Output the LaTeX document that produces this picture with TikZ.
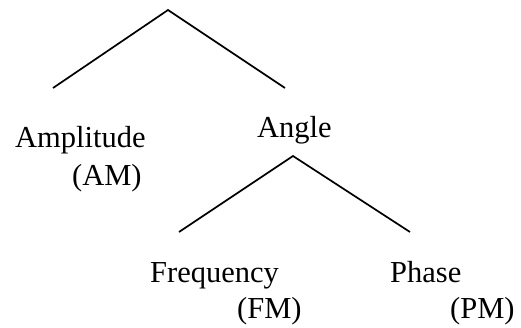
\documentclass[tikz,border=0pt]{standalone}
\usepackage{fontspec}
\setmainfont{Liberation Serif}
\begin{document}
\begin{tikzpicture}[x=1bp,y=-1bp,
  term/.style={inner sep=0pt, anchor=base west, font=\fontsize{30.5bp}{36bp}\selectfont},
  branch/.style={line width=1.7bp, line join=miter}]
\useasboundingbox (0,0) rectangle (521,327);

% modulation categories
\node[term] (amp)   at (15,147)  {Amplitude};
\node[term] (am)    at (72,185)  {(AM)};
\node[term] (angle) at (257,137) {Angle};
\node[term] (freq)  at (150,282) {Frequency};
\node[term] (fm)    at (237,318) {(FM)};
\node[term] (phase) at (390,282) {Phase};
\node[term] (pm)    at (450,318) {(PM)};

% branch points of the tree
\coordinate (top)  at (168,10);
\coordinate (topL) at (53,88);
\coordinate (topR) at (285,88);
\coordinate (low)  at (293,156);
\coordinate (lowL) at (179,232);
\coordinate (lowR) at (410,232);

\draw[branch] (topL) -- (top) -- (topR);
\draw[branch] (lowL) -- (low) -- (lowR);
\end{tikzpicture}
\end{document}
